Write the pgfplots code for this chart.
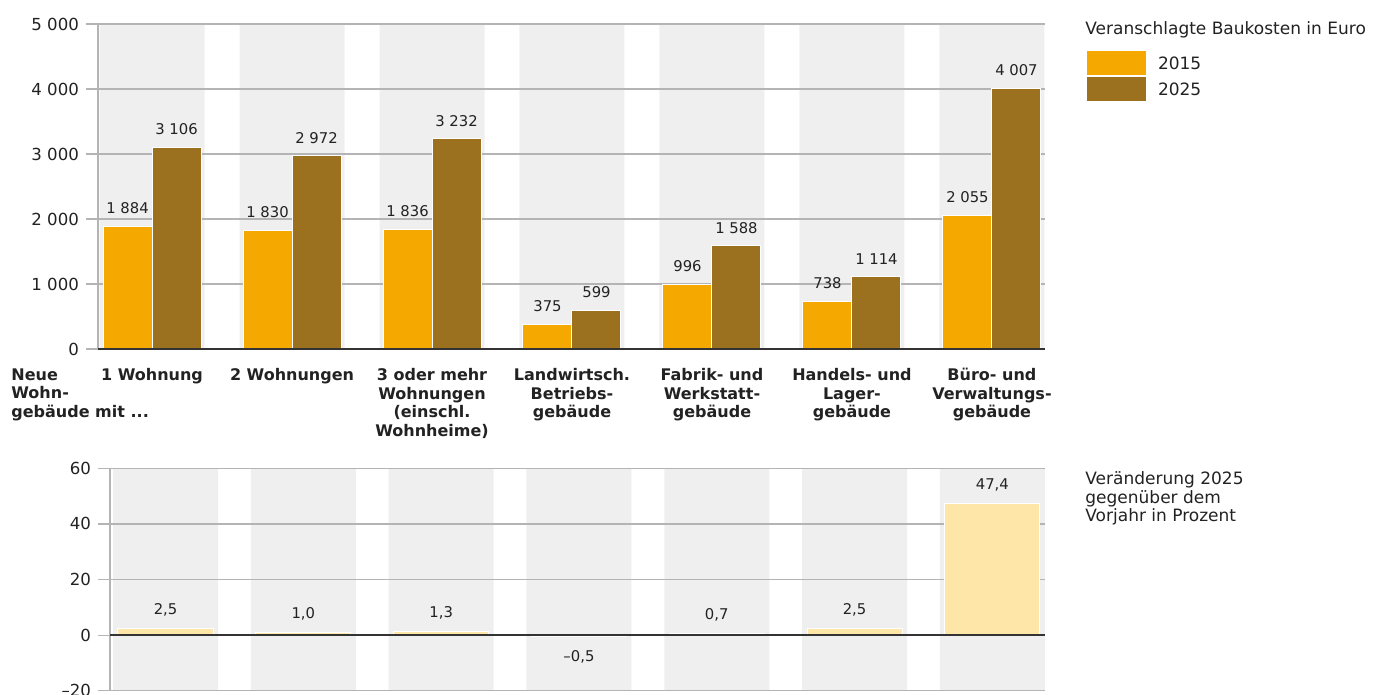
\documentclass[border=0pt]{standalone}
\usepackage{fontspec}
\setmainfont{DejaVu Sans}
\usepackage{pgfplots}
\usepackage{pgfplotstable}
\pgfplotsset{compat=1.18}
\definecolor{c15}{HTML}{F5A800}
\definecolor{c25}{HTML}{9B711F}
\definecolor{cchg}{HTML}{FEE5A8}
\definecolor{cband}{HTML}{EFEFEF}
\definecolor{cgrid}{HTML}{B4B4B4}
\definecolor{ctxt}{HTML}{222222}
\definecolor{czero}{HTML}{333333}
\newcommand{\ftick}{\fontsize{8.3pt}{9pt}\selectfont}
\newcommand{\fval}{\fontsize{7.4pt}{8pt}\selectfont}
\newcommand{\fleg}{\fontsize{8.5pt}{9.4pt}\selectfont}
\newcommand{\fcat}{\fontsize{8pt}{9.25pt}\selectfont\bfseries}

\pgfplotstableread{
x y15 y25
0 1884 3106
1 1830 2972
2 1836 3232
3 375 599
4 996 1588
5 738 1114
6 2055 4007
}\costs
\pgfplotstableread{
x y lab
0 2.5 2,5
1 1.0 1,0
2 1.3 1,3
4 0.7 0,7
5 2.5 2,5
6 47.4 47,4
}\chgpos
\pgfplotstableread{
x y lab
3 -0.5 –0,5
}\chgneg

\pgfplotsset{
  baseax/.style={
    scale only axis, clip=false,
    axis line style={draw=none},
    tick align=outside, major tick length=6pt, ytick pos=left,
    ytick style={cgrid, line width=0.6pt},
    xtick style={draw=none},
    yticklabel style={font=\ftick, text=ctxt},
  },
  legimg/.style={legend image code/.code={\draw[##1] (0pt,-6.25pt) rectangle (30pt,6.25pt);}},
}

\begin{document}
\begin{tikzpicture}
\useasboundingbox (0,0) rectangle (687.5pt,347.5pt);
\begin{axis}[baseax,
  at={(49pt,173pt)}, anchor=south west, width=473.5pt, height=162.5pt,
  xmin=-0.386, xmax=6.379, ymin=0, ymax=5000,
  ytick={0,1000,2000,3000,4000,5000},
  yticklabels={0,1 000,2 000,3 000,4 000,5 000},
  xtick={0,1,2,3,4,5,6},
  xticklabels={{1 Wohnung},{2 Wohnungen},{3 oder mehr\\Wohnungen\\(einschl.\\Wohnheime)},{Landwirtsch.\\Betriebs-\\gebäude},{Fabrik- und\\Werkstatt-\\gebäude},{Handels- und\\Lager-\\gebäude},{Büro- und\\Verwaltungs-\\gebäude}},
  xticklabel style={font=\fcat, text=ctxt, align=center, anchor=north, inner sep=0pt, yshift=-3.5pt},
  legend style={draw=none, fill=none, at={(1.0433,0.92)}, anchor=north west, inner sep=0pt, outer sep=0pt, row sep=0pt, column sep=5.5pt, font=\fleg, text=ctxt, nodes={inner sep=0pt, text depth=0pt}},
  legend cell align=left,
]
\addplot[ybar, bar width=0.75, bar shift=0, fill=cband, draw=none, forget plot]
  coordinates {(0,5000)(1,5000)(2,5000)(3,5000)(4,5000)(5,5000)(6,5000)};
\foreach \g in {1000,2000,3000,4000,5000} {
  \edef\temp{\noexpand\draw[cgrid, line width=0.6pt] (axis cs:-0.386,\g) -- (axis cs:6.379,\g);}
  \temp
}
\addplot[ybar, legimg, bar width=0.35, bar shift=-0.175, fill=c15, draw=white, line width=0.5pt,
  point meta=y,
  nodes near coords={\pgfmathprintnumber[assume math mode=true, 1000 sep={\ }, fixed, precision=0]{\pgfplotspointmeta}},
  every node near coord/.append style={font=\fval, text=ctxt, inner sep=0pt, yshift=6pt, xshift=-12.25pt}]
  table[x=x, y=y15]{\costs};
\addlegendentry{2015}
\addplot[ybar, legimg, bar width=0.35, bar shift=0.175, fill=c25, draw=white, line width=0.5pt,
  point meta=y,
  nodes near coords={\pgfmathprintnumber[assume math mode=true, 1000 sep={\ }, fixed, precision=0]{\pgfplotspointmeta}},
  every node near coord/.append style={font=\fval, text=ctxt, inner sep=0pt, yshift=6pt, xshift=12.25pt}]
  table[x=x, y=y25]{\costs};
\addlegendentry{2025}
\draw[cgrid, line width=0.6pt] (axis cs:-0.386,0) -- (axis cs:-0.386,5000);
\draw[czero, line width=1pt] (axis cs:-0.386,0) -- (axis cs:6.379,0);
\end{axis}

\begin{axis}[baseax,
  at={(55pt,2.15pt)}, anchor=south west, width=467.5pt, height=111.2pt,
  xmin=-0.403, xmax=6.382, ymin=-20, ymax=60,
  ytick={-20,0,20,40,60},
  yticklabels={–20,0,20,40,60},
  xtick=\empty,
]
\addplot[ybar, bar width=0.762, bar shift=0, fill=cband, draw=none, forget plot]
  coordinates {(0,60)(1,60)(2,60)(3,60)(4,60)(5,60)(6,60)};
\addplot[ybar, bar width=0.762, bar shift=0, fill=cband, draw=none, forget plot]
  coordinates {(0,-20)(1,-20)(2,-20)(3,-20)(4,-20)(5,-20)(6,-20)};
\foreach \g in {-20,20,40,60} {
  \edef\temp{\noexpand\draw[cgrid, line width=0.6pt] (axis cs:-0.403,\g) -- (axis cs:6.382,\g);}
  \temp
}
\addplot[ybar, bar width=0.69, bar shift=0, fill=cchg, draw=white, line width=0.5pt,
  point meta=explicit symbolic, nodes near coords,
  every node near coord/.append style={font=\fval, text=ctxt, inner sep=0pt, yshift=5.75pt}]
  table[x=x, y=y, meta=lab]{\chgpos};
\addplot[ybar, bar width=0.69, bar shift=0, fill=cchg, draw=white, line width=0.5pt,
  point meta=explicit symbolic, nodes near coords,
  every node near coord/.append style={font=\fval, text=ctxt, inner sep=0pt, anchor=north, yshift=-7pt}]
  table[x=x, y=y, meta=lab]{\chgneg};
\draw[cgrid, line width=0.6pt] (axis cs:-0.403,-20) -- (axis cs:-0.403,60);
\draw[czero, line width=1pt] (axis cs:-0.403,0) -- (axis cs:6.382,0);
\end{axis}

\node[anchor=north west, inner sep=0pt, font=\fleg, text=ctxt] at (542.5pt,337pt) {Veranschlagte Baukosten in Euro};
\node[anchor=north west, inner sep=0pt, font=\fleg, text=ctxt, align=left] at (542.5pt,112pt) {Veränderung 2025\\gegenüber dem\\Vorjahr in Prozent};
\node[anchor=north west, inner sep=0pt, font=\fcat, text=ctxt, align=left] at (5.5pt,163.5pt) {Neue\\Wohn-\\gebäude mit ...};
\end{tikzpicture}
\end{document}
